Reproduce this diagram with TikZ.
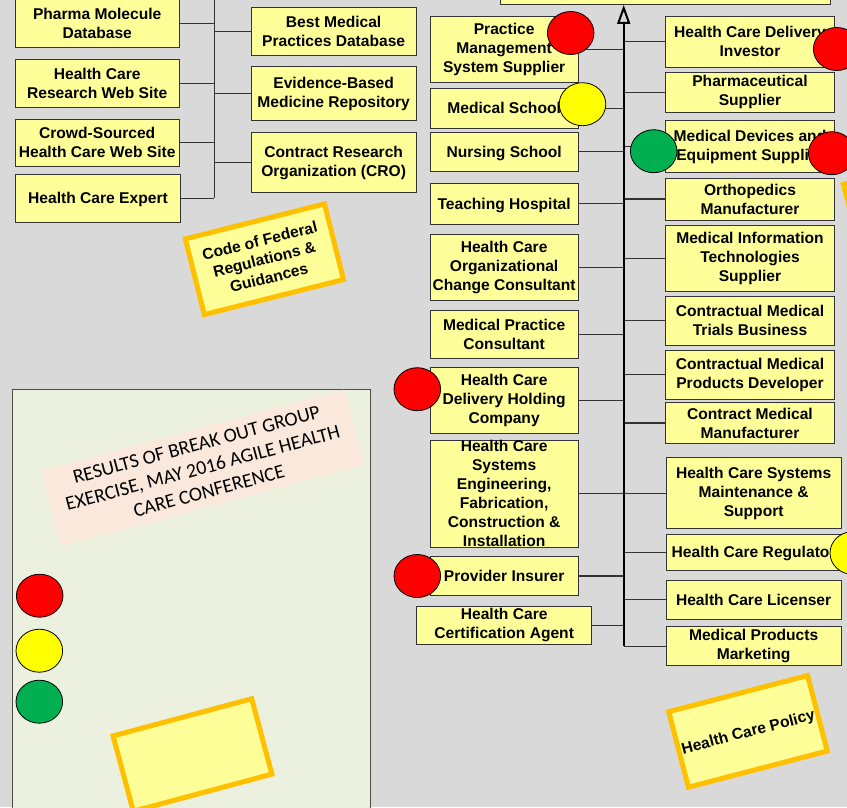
\documentclass[tikz,border=0pt]{standalone}
\usepackage{fontspec}
\setmainfont{Liberation Sans}
\newfontfamily\calib{Carlito}
\usetikzlibrary{shapes.geometric,arrows.meta}
\definecolor{bggray}{HTML}{D9D9D9}
\definecolor{boxyellow}{HTML}{FFFF99}
\definecolor{noteorange}{HTML}{FFC000}
\definecolor{dotred}{HTML}{FF0000}
\definecolor{dotyellow}{HTML}{FFFF00}
\definecolor{dotgreen}{HTML}{00B050}
\definecolor{panelgreen}{HTML}{EBF1DE}
\definecolor{notepink}{HTML}{FBE8DD}
\newcommand\bxf{\fontsize{15.6}{19}\selectfont\bfseries}
\newcommand\pkf{\calib\fontsize{19.8}{24}\selectfont}
\begin{document}
\begin{tikzpicture}[x=1pt,y=-1pt,
  box/.style={draw=black!80, fill=boxyellow, line width=0.9pt, align=center, inner sep=0pt, font=\bxf},
  oneline/.style={text height=11.3pt, text depth=0pt},
  branch/.style={draw=black!80, line width=1.2pt},
  spine/.style={draw=black, line width=2pt},
  dot/.style={ellipse, draw=black, line width=0.8pt, minimum width=46.6pt, minimum height=43pt, inner sep=0pt},
  note/.style={draw=noteorange, fill=boxyellow, line width=5pt, minimum width=143.5pt, minimum height=78pt, align=center, inner sep=0pt, font=\bxf},
  pinkbox/.style={fill=notepink, minimum width=314pt, minimum height=78pt, align=center, inner sep=0pt, font=\pkf}
]
\useasboundingbox (0,0) rectangle (847,807);
\clip (0,0) rectangle (847,807);
\fill[bggray] (0,0) rectangle (847,807);

% lower-left panel
\draw[fill=panelgreen, draw=black!70, line width=0.8pt] (12.7,389) rectangle (370,830);
\node[pinkbox, rotate=15] (results) at (202.7,467.9) {RESULTS OF BREAK OUT GROUP\\EXERCISE, MAY 2016 AGILE HEALTH\\CARE CONFERENCE};

% top box
\node[box, minimum width=330.7pt, minimum height=44.5pt] (topbox) at (665.35,-17.75) {};

% left column
\node[box, minimum width=164.3pt, minimum height=48.3pt] (pharma) at (97.2,23.2) {Pharma Molecule\\Database};
\node[box, minimum width=164.3pt, minimum height=48pt] (hcresearch) at (97.2,83.3) {Health Care\\Research Web Site};
\node[box, minimum width=164.3pt, minimum height=47.7pt] (crowd) at (97.2,142.85) {Crowd-Sourced\\Health Care Web Site};
\node[box, oneline, minimum width=164.6pt, minimum height=47.7pt] (expert) at (98,198.15) {Health Care Expert};
\node[box, minimum width=164.7pt, minimum height=47.7pt] (bestmed) at (333.65,31.15) {Best Medical\\Practices Database};
\node[box, minimum width=164.7pt, minimum height=53.6pt] (ebm) at (333.65,93.5) {Evidence-Based\\Medicine Repository};
\node[box, minimum width=164.7pt, minimum height=59.6pt] (cro) at (333.65,162.5) {Contract Research\\Organization (CRO)};

% middle-left column
\node[box, minimum width=148.3pt, minimum height=65.3pt] (pms) at (504.15,49.35) {Practice\\Management\\System Supplier};
\node[box, oneline, minimum width=148.3pt, minimum height=39.7pt] (medschool) at (504.15,108.15) {Medical School};
\node[box, oneline, minimum width=148.3pt, minimum height=39.7pt] (nursing) at (504.15,151.85) {Nursing School};
\node[box, oneline, minimum width=148.3pt, minimum height=40.3pt] (teaching) at (504.15,203.85) {Teaching Hospital};
\node[box, minimum width=148.3pt, minimum height=65.3pt] (orgchange) at (504.15,267.35) {Health Care\\Organizational\\Change Consultant};
\node[box, minimum width=148.3pt, minimum height=47.6pt] (medpractice) at (504.15,334.5) {Medical Practice\\Consultant};
\node[box, minimum width=148.3pt, minimum height=66pt] (holding) at (504.15,400.3) {Health Care\\Delivery Holding\\Company};
\node[box, minimum width=148.3pt, minimum height=107.7pt] (engineering) at (504.15,493.85) {Health Care\\Systems\\Engineering,\\Fabrication,\\Construction \&\\Installation};
\node[box, oneline, minimum width=148.3pt, minimum height=38.6pt] (insurer) at (504.15,576) {Provider Insurer};
\node[box, minimum width=175pt, minimum height=38.3pt] (cert) at (504.2,625.15) {Health Care\\Certification Agent};

% right column
\node[box, minimum width=168.6pt, minimum height=51pt] (investor) at (750,41.8) {Health Care Delivery\\Investor};
\node[box, minimum width=168.6pt, minimum height=40pt] (pharmsup) at (750,92.3) {Pharmaceutical\\Supplier};
\node[box, minimum width=168.6pt, minimum height=52pt] (devices) at (750,146.7) {Medical Devices and\\Equipment Supplier};
\node[box, minimum width=168.6pt, minimum height=42pt] (ortho) at (750,199) {Orthopedics\\Manufacturer};
\node[box, minimum width=168.6pt, minimum height=65.3pt] (medinfo) at (750,258.35) {Medical Information\\Technologies\\Supplier};
\node[box, minimum width=168.6pt, minimum height=49pt] (trials) at (750,320.5) {Contractual Medical\\Trials Business};
\node[box, minimum width=168.6pt, minimum height=49pt] (proddev) at (750,374.5) {Contractual Medical\\Products Developer};
\node[box, minimum width=168.6pt, minimum height=41.4pt] (contractmfr) at (750,423) {Contract Medical\\Manufacturer};
\node[box, minimum width=175.3pt, minimum height=71pt] (maintenance) at (753.65,493.2) {Health Care Systems\\Maintenance \&\\Support};
\node[box, oneline, minimum width=175.3pt, minimum height=35.7pt] (regulator) at (753.65,552.15) {Health Care Regulator};
\node[box, oneline, minimum width=175.3pt, minimum height=39.3pt] (licenser) at (753.65,599.65) {Health Care Licenser};
\node[box, minimum width=175.3pt, minimum height=39pt] (marketing) at (753.65,646.2) {Medical Products\\Marketing};

% connectors: left bus
\coordinate (busL) at (214.3,-10);
\draw[branch] (busL) -- (expert.east -| busL);
\foreach \n in {pharma,hcresearch,crowd,expert}
  \draw[branch] (\n.east) -- (\n.east -| busL);
\foreach \n in {bestmed,ebm,cro}
  \draw[branch] (\n.west) -- (\n.west -| busL);

% connectors: spine
\coordinate (spX) at (623.7,0);
\foreach \n in {pms,medschool,nursing,teaching,orgchange,medpractice,holding,engineering,insurer,cert}
  \draw[branch] (\n.east) -- (\n.east -| spX);
\foreach \n in {investor,pharmsup,devices,ortho,medinfo,trials,proddev,contractmfr,maintenance,regulator,licenser}
  \draw[branch] (\n.west) -- (\n.west -| spX);
\draw[branch] (marketing.west -| spX) -- (marketing.west);
\draw[spine, -{Triangle[open, length=19pt, width=13pt]}] (marketing.west -| spX) -- (topbox.south -| spX);

% traffic-light dots
\node[dot, fill=dotred] (d1) at (570.7,33) {};
\node[dot, fill=dotyellow] (d2) at (582.5,104.2) {};
\node[dot, fill=dotgreen] (d3) at (653.7,151.2) {};
\node[dot, fill=dotred] (d4) at (836.7,49) {};
\node[dot, fill=dotred] (d5) at (831.7,153.2) {};
\node[dot, fill=dotred] (d6) at (417.3,389.2) {};
\node[dot, fill=dotred] (d7) at (417.3,576) {};
\node[dot, fill=dotyellow] (d8) at (853.3,553) {};
\node[dot, fill=dotred] (l1) at (39.7,595.7) {};
\node[dot, fill=dotyellow] (l2) at (39.3,650.7) {};
\node[dot, fill=dotgreen] (l3) at (39.3,701.7) {};

% sticky notes
\node[note, rotate=14.1] (cfr) at (264.4,259.25) {Code of Federal\\Regulations \&\\Guidances};
\node[note, oneline, rotate=14.6] (policy) at (748,731.35) {Health Care Policy};
\node[note, rotate=15] (blank) at (192.5,755) {};
\node[note, rotate=14.5] (edgenote) at (922.7,204.2) {};
\end{tikzpicture}
\end{document}
